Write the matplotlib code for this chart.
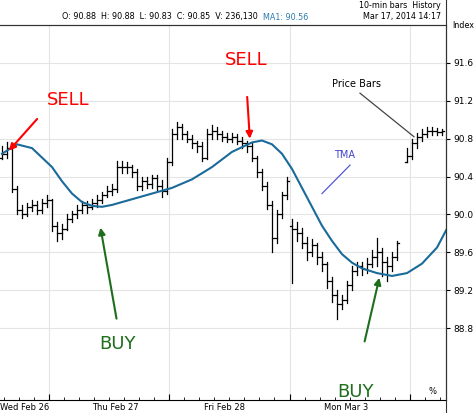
import matplotlib
matplotlib.use("Agg")
import matplotlib.pyplot as plt

hours = list(range(0, 80)) + list(range(81, 89))
closes = [90.64,90.70,90.27,90.05,90.00,90.08,90.10,90.05,90.12,90.15,
          89.88,89.80,89.85,89.95,90.00,90.05,90.10,90.08,90.12,90.15,
          90.20,90.25,90.27,90.50,90.50,90.50,90.45,90.30,90.35,90.32,
          90.38,90.30,90.25,90.55,90.85,90.92,90.85,90.80,90.75,90.72,
          90.60,90.85,90.88,90.85,90.82,90.80,90.82,90.78,90.75,90.72,
          90.60,90.45,90.30,90.10,89.75,90.00,90.20,90.35,
          89.85,89.80,89.70,89.60,89.68,89.55,89.48,89.30,89.15,89.05,
          89.10,89.25,89.40,89.45,89.42,89.48,89.55,89.60,89.50,89.45,
          89.55,89.70,
          90.62,90.75,90.82,90.85,90.88,90.88,90.87,90.88]
opens = [90.60,90.64,90.70,90.27,90.05,90.00,90.08,90.10,90.05,90.12,
         90.15,89.88,89.80,89.85,89.95,90.00,90.05,90.10,90.08,90.12,
         90.15,90.20,90.25,90.27,90.50,90.50,90.50,90.45,90.30,90.35,
         90.32,90.38,90.30,90.25,90.55,90.85,90.92,90.85,90.80,90.75,
         90.72,90.60,90.85,90.88,90.85,90.82,90.80,90.82,90.78,90.75,
         90.72,90.60,90.45,90.30,90.10,89.75,90.00,90.20,
         89.88,89.85,89.80,89.70,89.60,89.68,89.55,89.48,89.30,89.15,
         89.05,89.10,89.25,89.40,89.45,89.42,89.48,89.55,89.60,89.50,
         89.45,89.55,
         90.55,90.62,90.75,90.82,90.85,90.88,90.88,90.87]
highs = [90.72,90.76,90.72,90.30,90.10,90.12,90.15,90.14,90.16,90.20,
         90.16,89.92,89.90,90.00,90.04,90.10,90.14,90.14,90.16,90.20,
         90.24,90.30,90.32,90.56,90.56,90.55,90.52,90.48,90.40,90.40,
         90.42,90.42,90.36,90.60,90.90,90.98,90.95,90.88,90.84,90.78,
         90.76,90.90,90.94,90.92,90.88,90.86,90.86,90.85,90.82,90.78,
         90.75,90.62,90.48,90.34,90.14,90.05,90.24,90.40,
         89.95,89.92,89.86,89.76,89.74,89.70,89.60,89.50,89.34,89.20,
         89.15,89.30,89.45,89.50,89.50,89.54,89.62,89.75,89.65,89.55,
         89.60,89.72,
         90.70,90.80,90.86,90.90,90.92,90.92,90.91,90.90]
lows = [90.58,90.60,90.24,90.00,89.96,89.98,90.04,90.00,90.02,90.08,
        89.82,89.72,89.74,89.84,89.92,89.96,90.02,90.02,90.06,90.08,
        90.12,90.18,90.20,90.24,90.44,90.44,90.40,90.26,90.26,90.28,
        90.28,90.26,90.18,90.22,90.52,90.80,90.80,90.76,90.70,90.66,
        90.56,90.58,90.80,90.80,90.78,90.76,90.76,90.74,90.70,90.66,
        90.56,90.40,90.26,90.06,89.60,89.70,89.96,90.16,
        89.28,89.72,89.64,89.52,89.56,89.48,89.40,89.22,89.08,88.90,
        89.00,89.06,89.20,89.36,89.36,89.38,89.44,89.45,89.35,89.30,
        89.40,89.52,
        90.55,90.58,90.70,90.78,90.82,90.84,90.84,90.84]

tma_x = [0,3,6,8,10,12,14,16,18,20,22,26,30,34,38,42,46,50,52,54,56,58,60,62,64,66,68,70,72,75,78,81,84,87,89.2]
tma_y = [90.64,90.74,90.70,90.60,90.50,90.35,90.22,90.13,90.09,90.08,90.10,90.16,90.22,90.28,90.37,90.50,90.66,90.76,90.78,90.74,90.64,90.48,90.28,90.08,89.88,89.72,89.58,89.49,89.43,89.38,89.35,89.38,89.48,89.65,89.87]

day_ticks = [9.4, 33.4, 57.6, 81.6]
label_pos = [-0.4, 22.6, 44.6, 68.8]
label_ha = ["left", "center", "center", "center"]
day_labels = ["Wed Feb 26", "Thu Feb 27", "Fri Feb 28", "Mon Mar 3"]
y_ticks = [88.8, 89.2, 89.6, 90.0, 90.4, 90.8, 91.2, 91.6]

fig = plt.figure(figsize=(4.74, 4.13), dpi=100)
W, H = 474, 413
ax = fig.add_axes([0, (H-400)/H, 446/W, (400-25)/H])

for x, o, h, l, c in zip(hours, opens, highs, lows, closes):
    ax.plot([x, x], [l, h], color="black", lw=0.9)
    ax.plot([x-0.45, x], [o, o], color="black", lw=0.9)
    ax.plot([x, x+0.45], [c, c], color="black", lw=0.9)
ax.plot(tma_x, tma_y, color="#1a6a9a", lw=1.5)

ax.set_xticks(day_ticks)
ax.set_xticklabels([])
minor = [t + k*3 for t in [-14.6] + day_ticks for k in range(1, 8)]
ax.set_xticks([m for m in minor if 0 < m < 89], minor=True)
ax.tick_params(axis="x", which="major", length=4, direction="in")
ax.tick_params(axis="x", which="minor", length=2, direction="in")
for xp, lab, ha in zip(label_pos, day_labels, label_ha):
    ax.text(xp, -0.008, lab, transform=ax.get_xaxis_transform(), fontsize=6,
            ha=ha, va="top", clip_on=False)
ax.yaxis.tick_right()
ax.set_yticks(y_ticks)
ax.set_yticklabels([f"{v:.1f}" for v in y_ticks], fontsize=6.5)
ax.tick_params(axis="y", length=3, direction="out", pad=2)
ax.grid(True, color="#e4e4e4", lw=0.8)
ax.spines["left"].set_visible(False)
ax.spines["top"].set_color("#444444")
ax.set_xlim(-0.4, 88.8)
ax.set_ylim(88.04, 92.0)

ax.annotate("", xy=(1, 90.65), xytext=(7.4, 91.03),
            arrowprops=dict(arrowstyle="-|>", color="red", lw=1.5))
ax.text(9, 91.15, "SELL", color="red", fontsize=13)
ax.annotate("", xy=(49.6, 90.77), xytext=(49, 91.27),
            arrowprops=dict(arrowstyle="-|>", color="red", lw=1.5))
ax.text(44.5, 91.58, "SELL", color="red", fontsize=13)
ax.annotate("", xy=(19.6, 89.89), xytext=(23, 88.87),
            arrowprops=dict(arrowstyle="-|>", color="#1e6e1e", lw=1.5))
ax.text(19.5, 88.58, "BUY", color="#1e6e1e", fontsize=13)
ax.annotate("", xy=(75.6, 89.36), xytext=(72.4, 88.63),
            arrowprops=dict(arrowstyle="-|>", color="#1e6e1e", lw=1.5))
ax.text(67, 88.07, "BUY", color="#1e6e1e", fontsize=13)
ax.plot([64, 69.6], [90.22, 90.52], color="#5555dd", lw=0.9)
ax.text(66.5, 90.6, "TMA", color="#4444cc", fontsize=7)
ax.plot([71.6, 82.4], [91.28, 90.82], color="#444444", lw=0.9)
ax.text(66, 91.35, "Price Bars", color="black", fontsize=7)
ax.text(85.3, 88.1, "%", fontsize=6)

fig.text(258/W, 1-17/H, "O: 90.88  H: 90.88  L: 90.83  C: 90.85  V: 236,130", fontsize=5.8, ha="right", va="center")
fig.text(263/W, 1-17/H, "MA1: 90.56", fontsize=5.8, color="#2a7ab0", ha="left", va="center")
fig.text(441/W, 1-6/H, "10-min bars  History", fontsize=5.8, ha="right", va="center")
fig.text(441/W, 1-17/H, "Mar 17, 2014 14:17", fontsize=5.8, ha="right", va="center")
fig.text(452/W, 1-25/H, "Index", fontsize=5.8, ha="left", va="center")
fig.add_artist(plt.Line2D([0, 446/W], [1-25/H, 1-25/H], color="#333333", lw=0.8))
fig.add_artist(plt.Line2D([446/W, 446/W], [0, 1], color="#333333", lw=0.8))

fig.savefig("out.png", dpi=100)
